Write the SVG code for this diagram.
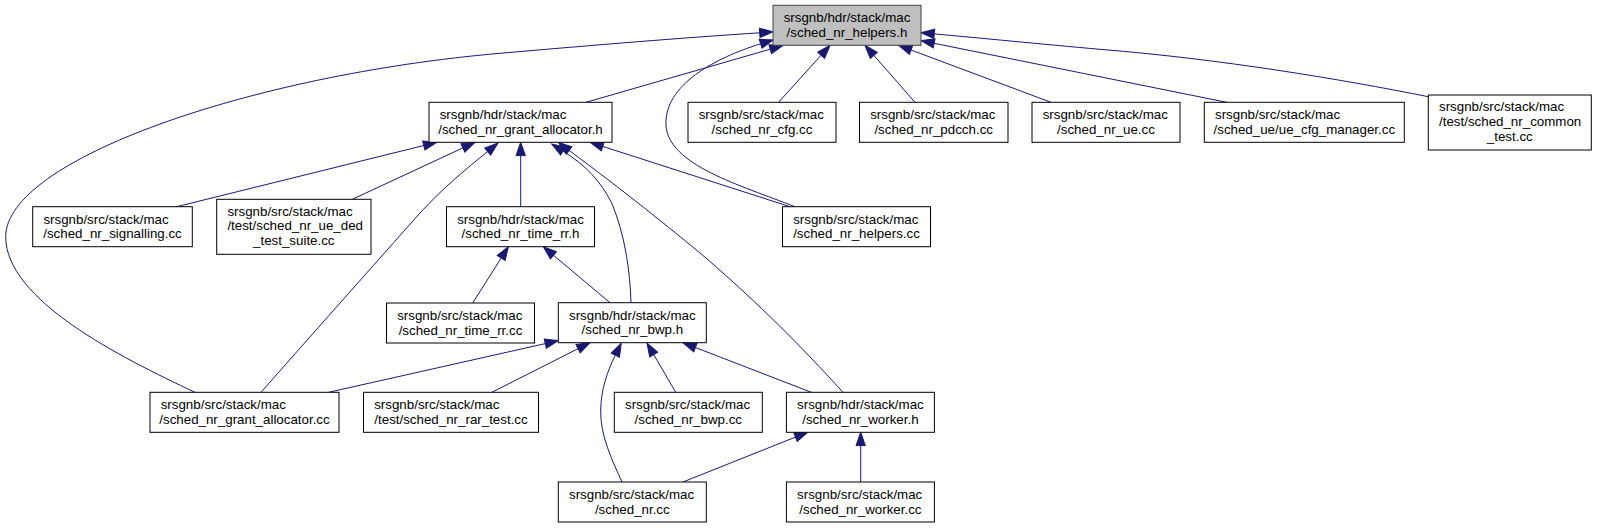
<svg xmlns="http://www.w3.org/2000/svg" width="1597" height="528" viewBox="0 0 1597 528">
<style>
.n rect{fill:#ffffff;stroke:#000000;stroke-width:1}
.n.root rect{fill:#bfbfbf;stroke:#404040}
.n text{font-family:"Liberation Sans",Arial,Helvetica,sans-serif;font-size:13.33px;fill:#000000}
.n text.m{text-anchor:middle}
#edges path{fill:none;stroke:#191970;stroke-width:1;marker-end:url(#ah)}
</style>
<defs>
<marker id="ah" markerUnits="userSpaceOnUse" markerWidth="14" markerHeight="10" refX="0" refY="4.67" orient="auto" overflow="visible">
<path d="M0,0 L13.33,4.67 L0,9.33 Z" fill="#191970" stroke="#191970" stroke-width="1"/>
</marker>
</defs>
<rect width="1597" height="528" fill="#ffffff"/>
<g id="edges">
<path d="M586,102.3 L770.2,49.2"/>
<path d="M795,206.7 C740,185 668,165 666,125 C664,85 715,58 760.6,43.8"/>
<path d="M195,392.3 C120,357 5.7,300 5.7,236.7 C5.7,160 250,75 500,53.3 C600,44.6 680,38 759.7,32.8"/>
<path d="M778.6,102.3 L821.1,55.2"/>
<path d="M915,102.3 L873.8,55.3"/>
<path d="M1051,102.3 L911,50"/>
<path d="M1226.7,102.3 L934.1,43.3"/>
<path d="M1428.3,96.7 C1340,79 1220,59 1100,49.3 C1040,44 980,38 934.3,33.9"/>
<path d="M176.7,206.7 L423.8,145.5"/>
<path d="M352.3,199.3 L462.9,147.9"/>
<path d="M261,392.3 C300,348 380,258 420,213 C445,186 465,170 487.7,151.5"/>
<path d="M520.7,206.7 L520.7,155.6"/>
<path d="M631,302.7 C630,270 625,235 611.7,203 C600,180 585,165 563,151.1"/>
<path d="M843,392.3 C800,345 760,305 706,258 C670,228 620,188 569.1,150.4"/>
<path d="M790,206.7 L602.7,146.4"/>
<path d="M472.7,303 L501.2,258"/>
<path d="M610,302.7 L553.5,255.3"/>
<path d="M328.6,392.3 L545.3,343.6"/>
<path d="M491.8,392.3 L578.1,348.7"/>
<path d="M622,482 C612,460 600,435 600.7,410 C601,390 607,372 615.3,355.2"/>
<path d="M675.7,392.3 L653.7,354.5"/>
<path d="M811.4,392.3 L695.4,347.5"/>
<path d="M682.9,482 L795.5,437.1"/>
<path d="M860.7,482 L860.7,445.6"/>
</g>
<g id="node_helpers_h" class="n root">
<rect x="773" y="5.3" width="148" height="40"/>
<text x="783.7" y="22.1">srsgnb/hdr/stack/mac</text>
<text class="m" x="847" y="36.8">/sched_nr_helpers.h</text>
</g>
<g id="node_grant_allocator_h" class="n">
<rect x="429" y="102.3" width="183" height="40"/>
<text x="439.7" y="119.1">srsgnb/hdr/stack/mac</text>
<text class="m" x="520.5" y="133.8">/sched_nr_grant_allocator.h</text>
</g>
<g id="node_cfg_cc" class="n">
<rect x="688" y="102.3" width="148" height="40"/>
<text x="698.7" y="119.1">srsgnb/src/stack/mac</text>
<text class="m" x="762" y="133.8">/sched_nr_cfg.cc</text>
</g>
<g id="node_pdcch_cc" class="n">
<rect x="859.5" y="102.3" width="148.5" height="40"/>
<text x="870.2" y="119.1">srsgnb/src/stack/mac</text>
<text class="m" x="933.7" y="133.8">/sched_nr_pdcch.cc</text>
</g>
<g id="node_ue_cc" class="n">
<rect x="1032" y="102.3" width="148" height="40"/>
<text x="1042.7" y="119.1">srsgnb/src/stack/mac</text>
<text class="m" x="1106" y="133.8">/sched_nr_ue.cc</text>
</g>
<g id="node_ue_cfg_manager_cc" class="n">
<rect x="1204.3" y="102.3" width="200" height="40"/>
<text x="1215" y="119.1">srsgnb/src/stack/mac</text>
<text class="m" x="1304.3" y="133.8">/sched_ue/ue_cfg_manager.cc</text>
</g>
<g id="node_common_test_cc" class="n">
<rect x="1428.3" y="95" width="163" height="55"/>
<text x="1439" y="111.2">srsgnb/src/stack/mac</text>
<text x="1439" y="125.9">/test/sched_nr_common</text>
<text class="m" x="1509.8" y="140.6">_test.cc</text>
</g>
<g id="node_signalling_cc" class="n">
<rect x="32.7" y="206.7" width="159.6" height="40"/>
<text x="43.4" y="223.5">srsgnb/src/stack/mac</text>
<text class="m" x="112.5" y="238.2">/sched_nr_signalling.cc</text>
</g>
<g id="node_ue_ded_test_suite_cc" class="n">
<rect x="216.7" y="199.3" width="154.3" height="55"/>
<text x="227.4" y="215.5">srsgnb/src/stack/mac</text>
<text x="227.4" y="230.2">/test/sched_nr_ue_ded</text>
<text class="m" x="293.8" y="244.9">_test_suite.cc</text>
</g>
<g id="node_time_rr_h" class="n">
<rect x="446.5" y="206.7" width="148" height="40"/>
<text x="457.2" y="223.5">srsgnb/hdr/stack/mac</text>
<text class="m" x="520.5" y="238.2">/sched_nr_time_rr.h</text>
</g>
<g id="node_helpers_cc" class="n">
<rect x="782.5" y="206.7" width="148" height="40"/>
<text x="793.2" y="223.5">srsgnb/src/stack/mac</text>
<text class="m" x="856.5" y="238.2">/sched_nr_helpers.cc</text>
</g>
<g id="node_time_rr_cc" class="n">
<rect x="386.5" y="303" width="148" height="40"/>
<text x="397.2" y="319.8">srsgnb/src/stack/mac</text>
<text class="m" x="460.5" y="334.5">/sched_nr_time_rr.cc</text>
</g>
<g id="node_bwp_h" class="n">
<rect x="558.3" y="302.7" width="148" height="40"/>
<text x="569" y="319.5">srsgnb/hdr/stack/mac</text>
<text class="m" x="632.3" y="334.2">/sched_nr_bwp.h</text>
</g>
<g id="node_grant_allocator_cc" class="n">
<rect x="150" y="392.3" width="189" height="40"/>
<text x="160.7" y="409.1">srsgnb/src/stack/mac</text>
<text class="m" x="244.5" y="423.8">/sched_nr_grant_allocator.cc</text>
</g>
<g id="node_rar_test_cc" class="n">
<rect x="363.5" y="392.3" width="175" height="40"/>
<text x="374.2" y="409.1">srsgnb/src/stack/mac</text>
<text class="m" x="451" y="423.8">/test/sched_nr_rar_test.cc</text>
</g>
<g id="node_bwp_cc" class="n">
<rect x="614.3" y="392.3" width="148" height="40"/>
<text x="625" y="409.1">srsgnb/src/stack/mac</text>
<text class="m" x="688.3" y="423.8">/sched_nr_bwp.cc</text>
</g>
<g id="node_worker_h" class="n">
<rect x="786.4" y="392.3" width="148" height="40"/>
<text x="797.1" y="409.1">srsgnb/hdr/stack/mac</text>
<text class="m" x="860.4" y="423.8">/sched_nr_worker.h</text>
</g>
<g id="node_sched_nr_cc" class="n">
<rect x="558.3" y="482" width="148" height="40"/>
<text x="569" y="498.8">srsgnb/src/stack/mac</text>
<text class="m" x="632.3" y="513.5">/sched_nr.cc</text>
</g>
<g id="node_worker_cc" class="n">
<rect x="786.4" y="482" width="148" height="40"/>
<text x="797.1" y="498.8">srsgnb/src/stack/mac</text>
<text class="m" x="860.4" y="513.5">/sched_nr_worker.cc</text>
</g>
</svg>
